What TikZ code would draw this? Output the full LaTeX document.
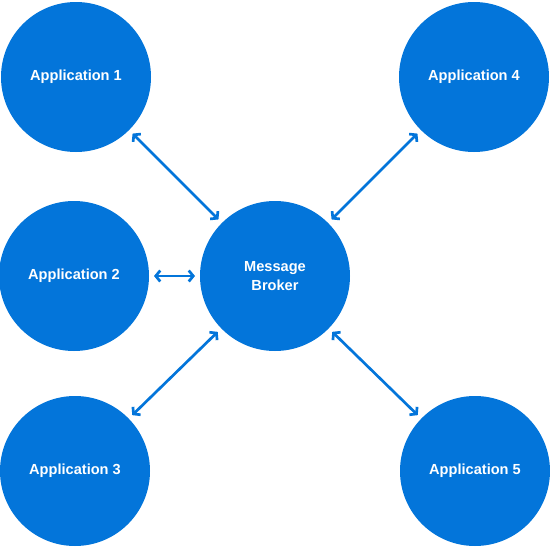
\documentclass[tikz,border=0pt]{standalone}
\usepackage{fontspec}
\setmainfont{Liberation Sans}
\usetikzlibrary{arrows.meta}
\definecolor{appblue}{RGB}{3,117,218}
\tikzset{application/.style={
		circle,
		fill=appblue,
		inner sep=0pt,
		outer sep=5pt,
		minimum size=150pt,
		text=white,
		align=center,
		font=\fontsize{14.6}{18.5}\selectfont\bfseries
	},
	link/.style={
		{Straight Barb[length=4.5pt,width=11pt]}-{Straight Barb[length=4.5pt,width=11pt]},
		draw=appblue,
		line width=2.7pt
	}}

\begin{document}
\begin{tikzpicture}[x=1pt,y=-1pt]
				\useasboundingbox (0,0) rectangle (550,549);
				\node[application] (App1) at (76,77) {Application 1};
				\node[application] (App4) at (474,77) {Application 4};
				\node[application] (App2) at (74,276) {Application 2};
				\node[application] (Broker) at (275,276) {Message\\Broker};
				\node[application] (App3) at (75,471) {Application 3};
				\node[application] (App5) at (475,471) {Application 5};
				
				\draw[link] (App1) -- (Broker);
				\draw[link] (App4) -- (Broker);
				\draw[link] (App2) -- (Broker);
				\draw[link] (App3) -- (Broker);
				\draw[link] (App5) -- (Broker);
			\end{tikzpicture}
\end{document}
